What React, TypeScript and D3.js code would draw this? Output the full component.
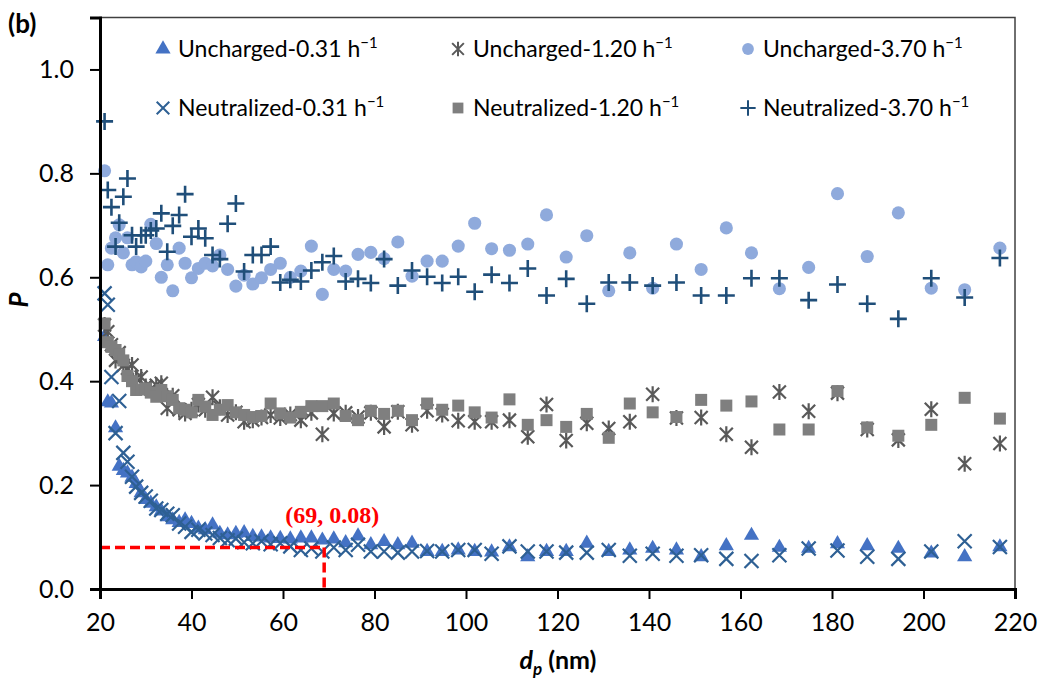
import React, { useEffect, useRef } from "react";
import * as d3 from "d3";

// Particle diameters (nm)
const dp = [
  21.0, 21.7, 22.5, 23.4, 24.2, 25.1, 26.0, 27.0, 27.9, 29.0,
  30.0, 31.1, 32.3, 33.4, 34.7, 35.9, 37.3, 38.6, 40.0, 41.5,
  43.0, 44.6, 46.2, 47.9, 49.7, 51.5, 53.4, 55.3, 57.3, 59.4,
  61.6, 63.9, 66.2, 68.6, 71.1, 73.7, 76.4, 79.2, 82.1, 85.1,
  88.2, 91.5, 94.8, 98.3, 101.9, 105.6, 109.5, 113.5, 117.6, 121.9,
  126.4, 131.2, 135.8, 140.8, 146.0, 151.4, 156.9, 162.4, 168.5, 174.9,
  181.2, 187.7, 194.5, 201.7, 209.0, 216.7,
];

const unchargedLow = [
  0.486, 0.360, 0.358, 0.310, 0.236, 0.228, 0.223, 0.215, 0.203, 0.185,
  0.172, 0.165, 0.158, 0.150, 0.139, 0.133, 0.128, 0.133, 0.126, 0.117,
  0.114, 0.123, 0.107, 0.104, 0.107, 0.108, 0.101, 0.100, 0.098, 0.097,
  0.096, 0.098, 0.098, 0.094, 0.096, 0.089, 0.102, 0.085, 0.091, 0.085,
  0.088, 0.072, 0.072, 0.075, 0.072, 0.071, 0.081, 0.062, 0.072, 0.072,
  0.088, 0.072, 0.075, 0.078, 0.075, 0.062, 0.083, 0.103, 0.080, 0.078,
  0.087, 0.083, 0.078, 0.069, 0.062, 0.081,
];

const unchargedMid = [
  0.508, 0.495, 0.470, 0.440, 0.455, 0.430, 0.425, 0.431, 0.405, 0.408,
  0.390, 0.385, 0.392, 0.396, 0.348, 0.372, 0.345, 0.338, 0.345, 0.355,
  0.345, 0.369, 0.350, 0.335, 0.340, 0.322, 0.325, 0.330, 0.335, 0.329,
  0.336, 0.325, 0.339, 0.298, 0.338, 0.339, 0.331, 0.339, 0.312, 0.341,
  0.316, 0.343, 0.336, 0.324, 0.322, 0.322, 0.325, 0.293, 0.355, 0.286,
  0.319, 0.309, 0.322, 0.375, 0.329, 0.330, 0.298, 0.273, 0.379, 0.342,
  0.377, 0.307, 0.287, 0.346, 0.241, 0.280,
];

const unchargedHigh = [
  0.805, 0.624, 0.656, 0.676, 0.701, 0.647, 0.676, 0.624, 0.630, 0.620,
  0.631, 0.702, 0.665, 0.600, 0.624, 0.574, 0.656, 0.627, 0.599, 0.617,
  0.627, 0.622, 0.643, 0.615, 0.583, 0.604, 0.587, 0.599, 0.615, 0.627,
  0.600, 0.612, 0.660, 0.567, 0.615, 0.612, 0.644, 0.648, 0.636, 0.668,
  0.602, 0.631, 0.631, 0.660, 0.704, 0.655, 0.652, 0.664, 0.720, 0.639,
  0.680, 0.574, 0.647, 0.579, 0.664, 0.615, 0.695, 0.647, 0.578, 0.619,
  0.761, 0.640, 0.724, 0.579, 0.576, 0.656,
];

const neutralizedLow = [
  0.569, 0.547, 0.408, 0.300, 0.362, 0.262, 0.245, 0.216, 0.197, 0.185,
  0.178, 0.170, 0.155, 0.152, 0.145, 0.142, 0.126, 0.120, 0.110, 0.114,
  0.107, 0.104, 0.098, 0.094, 0.097, 0.090, 0.088, 0.092, 0.086, 0.088,
  0.082, 0.075, 0.078, 0.072, 0.080, 0.075, 0.085, 0.072, 0.072, 0.070,
  0.072, 0.073, 0.072, 0.075, 0.075, 0.068, 0.082, 0.072, 0.072, 0.070,
  0.070, 0.075, 0.064, 0.068, 0.064, 0.065, 0.058, 0.054, 0.065, 0.078,
  0.074, 0.062, 0.058, 0.072, 0.092, 0.081,
];

const neutralizedMid = [
  0.511, 0.475, 0.466, 0.460, 0.452, 0.440, 0.410, 0.400, 0.383, 0.384,
  0.386, 0.378, 0.370, 0.383, 0.371, 0.364, 0.348, 0.345, 0.340, 0.364,
  0.351, 0.335, 0.345, 0.354, 0.340, 0.335, 0.331, 0.333, 0.357, 0.338,
  0.330, 0.341, 0.352, 0.352, 0.357, 0.333, 0.325, 0.343, 0.337, 0.343,
  0.325, 0.357, 0.345, 0.353, 0.340, 0.330, 0.365, 0.316, 0.325, 0.312,
  0.337, 0.291, 0.357, 0.340, 0.331, 0.364, 0.353, 0.361, 0.307, 0.307,
  0.381, 0.311, 0.295, 0.316, 0.368, 0.328,
];

const neutralizedHigh = [
  0.900, 0.768, 0.735, 0.659, 0.705, 0.755, 0.790, 0.681, 0.659, 0.681,
  0.681, 0.690, 0.694, 0.723, 0.649, 0.699, 0.720, 0.760, 0.678, 0.694,
  0.675, 0.643, 0.635, 0.703, 0.742, 0.611, 0.643, 0.643, 0.659, 0.590,
  0.595, 0.592, 0.613, 0.629, 0.641, 0.592, 0.597, 0.589, 0.635, 0.584,
  0.613, 0.601, 0.589, 0.601, 0.572, 0.605, 0.589, 0.617, 0.565, 0.597,
  0.549, 0.590, 0.590, 0.584, 0.590, 0.565, 0.565, 0.598, 0.598, 0.556,
  0.586, 0.549, 0.520, 0.598, 0.561, 0.637,
];

const seriesNames = [
  "Uncharged-0.31",
  "Uncharged-1.20",
  "Uncharged-3.70",
  "Neutralized-0.31",
  "Neutralized-1.20",
  "Neutralized-3.70",
];
const xTicks = [20, 40, 60, 80, 100, 120, 140, 160, 180, 200, 220];
const yTicks = [0.0, 0.2, 0.4, 0.6, 0.8, 1.0];
const markerPoint = { x: 69, y: 0.08 };

type Kind = "triangle" | "asterisk" | "circle" | "cross" | "square" | "plus";

const series: { name: string; values: number[]; kind: Kind; color: string }[] = [
  { name: seriesNames[0], values: unchargedLow, kind: "triangle", color: "#4472C4" },
  { name: seriesNames[1], values: unchargedMid, kind: "asterisk", color: "#595959" },
  { name: seriesNames[2], values: unchargedHigh, kind: "circle", color: "#8FAADC" },
  { name: seriesNames[3], values: neutralizedLow, kind: "cross", color: "#2E6094" },
  { name: seriesNames[4], values: neutralizedMid, kind: "square", color: "#7F7F7F" },
  { name: seriesNames[5], values: neutralizedHigh, kind: "plus", color: "#1F4E79" },
];

function markerPath(kind: Kind, s: number): string {
  if (kind === "triangle") return d3.symbol(d3.symbolTriangle, 100 * s * s)()!;
  if (kind === "square") return d3.symbol(d3.symbolSquare, 144 * s * s)()!;
  if (kind === "circle") return d3.symbol(d3.symbolCircle, 135 * s * s)()!;
  if (kind === "cross") {
    const h = 7 * s;
    return `M${-h},${-h}L${h},${h}M${-h},${h}L${h},${-h}`;
  }
  if (kind === "plus") {
    const h = 8.5 * s;
    return `M${-h},0L${h},0M0,${-h}L0,${h}`;
  }
  const h = 6.5 * s;
  const v = 8 * s;
  return `M${-h},${-h}L${h},${h}M${-h},${h}L${h},${-h}M0,${-v}L0,${v}`;
}

function isStroke(kind: Kind) {
  return kind === "cross" || kind === "plus" || kind === "asterisk";
}

const W = 1043;
const H = 681;
const M = { left: 100, right: 1015, top: 17.5, bottom: 589 };

export default function App() {
  const ref = useRef<SVGSVGElement | null>(null);

  useEffect(() => {
    const svg = d3.select(ref.current);
    svg.selectAll("*").remove();

    const x = d3.scaleLinear().domain([20, 220]).range([M.left, M.right]);
    const y = d3.scaleLinear().domain([0, 1.1]).range([M.bottom, M.top]);

    const font = "Lato, 'Open Sans', sans-serif";

    svg
      .append("rect")
      .attr("x", M.left)
      .attr("y", M.top)
      .attr("width", M.right - M.left)
      .attr("height", M.bottom - M.top)
      .attr("fill", "none")
      .attr("stroke", "#404040")
      .attr("stroke-width", 1.5);

    series.forEach((s) => {
      const g = svg.append("g");
      const path = markerPath(s.kind, 1);
      g.selectAll("path")
        .data(s.values.map((v, i) => ({ x: dp[i], y: v })))
        .enter()
        .append("path")
        .attr("d", path)
        .attr("transform", (d) => `translate(${x(d.x)},${y(d.y)})`)
        .attr("fill", isStroke(s.kind) ? "none" : s.color)
        .attr("stroke", isStroke(s.kind) ? s.color : "none")
        .attr("stroke-width", s.kind === "plus" ? 2.6 : 2.2);
    });

    const red = "#FF0000";
    svg
      .append("line")
      .attr("x1", x(20))
      .attr("x2", x(markerPoint.x))
      .attr("y1", y(markerPoint.y))
      .attr("y2", y(markerPoint.y))
      .attr("stroke", red)
      .attr("stroke-width", 3.5)
      .attr("stroke-dasharray", "10,5");
    svg
      .append("line")
      .attr("x1", x(markerPoint.x))
      .attr("x2", x(markerPoint.x))
      .attr("y1", y(markerPoint.y))
      .attr("y2", y(0))
      .attr("stroke", red)
      .attr("stroke-width", 3.5)
      .attr("stroke-dasharray", "10,5");
    svg
      .append("text")
      .attr("x", x(markerPoint.x) + 8)
      .attr("y", y(markerPoint.y) - 24)
      .attr("text-anchor", "middle")
      .attr("font-family", "'Liberation Serif', 'Times New Roman', serif")
      .attr("font-weight", "bold")
      .attr("font-size", 24)
      .attr("fill", red)
      .text(`(${markerPoint.x}, ${markerPoint.y.toFixed(2)})`);

    const xAxis = d3
      .axisBottom(x)
      .tickValues(xTicks)
      .tickSize(10)
      .tickPadding(14)
      .tickFormat((d) => d3.format("d")(d as number));
    const gx = svg.append("g").attr("transform", `translate(0,${M.bottom})`).call(xAxis);
    gx.select(".domain").attr("stroke", "#000").attr("stroke-width", 3);
    gx.selectAll(".tick line").attr("stroke", "#000").attr("stroke-width", 2);
    gx.selectAll(".tick text")
      .attr("font-family", font)
      .attr("font-size", 25)
      .attr("fill", "#000");

    const yAxis = d3
      .axisLeft(y)
      .tickValues(yTicks)
      .tickSize(10)
      .tickPadding(16)
      .tickFormat((d) => d3.format(".1f")(d as number));
    const gy = svg.append("g").attr("transform", `translate(${M.left},0)`).call(yAxis);
    gy.select(".domain").attr("stroke", "#000").attr("stroke-width", 3);
    gy.selectAll(".tick line").attr("stroke", "#000").attr("stroke-width", 2);
    gy.selectAll(".tick text")
      .attr("font-family", font)
      .attr("font-size", 25)
      .attr("fill", "#000");

    const xt = svg
      .append("text")
      .attr("x", 558)
      .attr("y", 669)
      .attr("text-anchor", "middle")
      .attr("font-family", font)
      .attr("font-weight", "bold")
      .attr("font-size", 25)
      .attr("fill", "#000");
    xt.append("tspan").attr("font-style", "italic").text("d");
    xt.append("tspan")
      .attr("font-style", "italic")
      .attr("font-size", 17)
      .attr("dy", 6)
      .text("p");
    xt.append("tspan").attr("dy", -6).text(" (nm)");

    svg
      .append("text")
      .attr("transform", `translate(28,300) rotate(-90)`)
      .attr("text-anchor", "middle")
      .attr("font-family", font)
      .attr("font-weight", "bold")
      .attr("font-style", "italic")
      .attr("font-size", 26)
      .attr("fill", "#000")
      .text("P");

    svg
      .append("text")
      .attr("x", 8)
      .attr("y", 33)
      .attr("font-family", font)
      .attr("font-weight", "bold")
      .attr("font-size", 26)
      .attr("fill", "#000")
      .text("(b)");

    const colX = [163, 458, 748];
    const rowY = [49, 108];
    series.forEach((s, i) => {
      const cx = colX[i % 3];
      const cy = rowY[Math.floor(i / 3)];
      const g = svg.append("g").attr("transform", `translate(${cx},${cy})`);
      g.append("path")
        .attr("d", markerPath(s.kind, s.kind === "triangle" ? 1 : 0.9))
        .attr("fill", isStroke(s.kind) ? "none" : s.color)
        .attr("stroke", isStroke(s.kind) ? s.color : "none")
        .attr("stroke-width", 2);
      const t = g
        .append("text")
        .attr("x", 15)
        .attr("y", 8)
        .attr("font-family", font)
        .attr("font-size", 23)
        .attr("fill", "#000");
      const parts = s.name.split("-");
      t.append("tspan").text(`${parts[0]}-${parts[1]} h`);
      t.append("tspan").attr("font-size", 15).attr("dy", -9).text("\u22121");
    });
  }, []);

  return (
    <>
      <style>{`body{margin:0;background:#fff;}`}</style>
      <svg
        ref={ref}
        width={W}
        height={H}
        viewBox={`0 0 ${W} ${H}`}
        style={{ display: "block", background: "#fff" }}
      />
    </>
  );
}
